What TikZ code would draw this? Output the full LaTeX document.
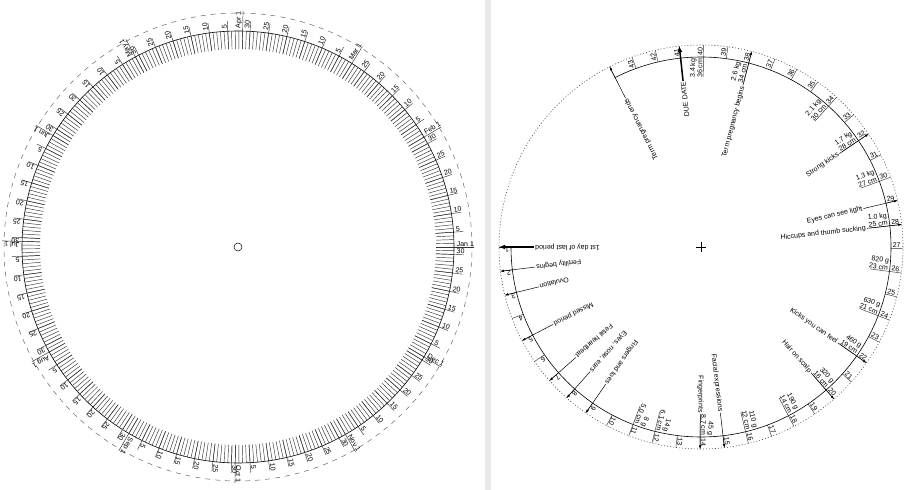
\documentclass[tikz,border=0pt]{standalone}
\usepackage{fontspec}
\setmainfont{Liberation Sans}
\usetikzlibrary{arrows.meta}
\begin{document}
\begin{tikzpicture}[x=1pt,y=1pt,
  lab/.style={font=\fontsize{7}{7}\selectfont, inner sep=0.6pt},
  sz/.style={font=\fontsize{7}{7.4}\selectfont, inner sep=0.6pt, align=right},
  tick/.style={line width=0.45pt, black!80},
  ev/.style={line width=0.5pt, -{Latex[length=3.5pt,width=2.6pt]}},
  evthick/.style={line width=1.5pt, -{Latex[length=6pt,width=5pt]}},
]
\useasboundingbox (0,0) rectangle (911,490);
\fill[black!9] (484.5,0) rectangle (490.5,490);
% ---------------- left wheel: calendar ----------------
\begin{scope}[shift={(238,243)}]
  \coordinate (lc) at (0,0);
  \draw[dash pattern=on 5pt off 5pt, line width=0.5pt, black!60] (lc) circle (234);
  \draw[line width=0.6pt] (lc) circle (216);
  \draw[line width=0.5pt] (lc) circle (4);
  \foreach \d in {0,...,364}{
    \pgfmathsetmacro\a{\d/365*360}
    \draw[tick] (\a:198) -- (\a:216);
  }
  \foreach \m/\n/\s in {Jan/31/0, Feb/28/31, Mar/31/59, Apr/30/90, May/31/120, Jun/30/151, Jul/31/181, Aug/31/212, Sep/30/243, Oct/31/273, Nov/30/304, Dec/31/334}{
    \pgfmathsetmacro\a{\s/365*360}
    \draw[tick] (\a:198) -- (\a:236);
    \node[lab, anchor=south west, rotate=\a] (m\s) at (\a:218) {\m\ 1};
    \foreach \k in {5,10,...,30}{
      \ifnum\k>\n\relax\else
        \pgfmathsetmacro\b{(\s+\k-1)/365*360}
        \draw[tick] (\b:198) -- (\b:226);
        \node[lab, anchor=south west, rotate=\b] at (\b:218) {\k};
      \fi
    }
  }
\end{scope}
% ---------------- right wheel: pregnancy ----------------
\begin{scope}[shift={(701,243)}]
  \coordinate (rc) at (0,0);
  \draw[dash pattern=on 1pt off 2pt, line width=0.6pt, black!70] (rc) circle (202);
  \draw[line width=0.6pt] (180:190) arc[start angle=180, end angle=476.93, radius=190];
  \draw[line width=0.5pt] (-5,0) -- (5,0) (0,-5) -- (0,5);
  \foreach \n in {1,...,43}{
    \pgfmathsetmacro\a{180+(\n-1)*6.9041}
    \draw[tick] (\a:190) -- (\a:202);
    \node[lab, anchor=south west, rotate=\a] (w\n) at (\a:191) {\n};
  }
  \draw[tick] (476.93:190) -- (476.93:202);
  % sizes
  \foreach \n/\t in {11/{8 g\\5.0 cm}, 12/{14 g\\6.1 cm}, 14/{45 g\\8.7 cm}, 16/{110 g\\12 cm}, 18/{190 g\\14 cm}, 20/{320 g\\16 cm}, 22/{460 g\\19 cm}, 24/{630 g\\21 cm}, 26/{820 g\\23 cm}, 28/{1.0 kg\\25 cm}, 30/{1.3 kg\\27 cm}, 32/{1.7 kg\\28 cm}, 34/{2.1 kg\\30 cm}, 38/{2.6 kg\\34 cm}, 40/{3.4 kg\\36 cm}}{
    \pgfmathsetmacro\a{180+(\n-1)*6.9041}
    \draw[tick] (\a:170) -- (\a:190);
    \node[sz, anchor=south east, rotate=\a] (s\n) at (\a:189) {\t};
  }
  % events
  \foreach \n/\t/\st in {1/1st day of last period/evthick, 2/Fertility begins/ev, 3/Ovulation/ev, 5/Missed period/ev, 7/Fetal heartbeat/ev, 8/{Eyes, nose, ears}/ev, 9/Fingers and toes/ev, 14/Fingerprints/ev, 15/Facial expressions/ev, 20/Hair on scalp/ev, 22/Kicks you can feel/ev, 28/Hiccups and thumb sucking/ev, 29/Eyes can see light/ev, 32/Strong kicks/ev, 38/Term pregnancy begins/ev, 41/DUE DATE/evthick, 44/Term pregnancy ends/ev}{
    \pgfmathsetmacro\a{180+(\n-1)*6.9041}
    \coordinate (es\n) at (\a:167);
    \coordinate (et\n) at (\a:202);
    \node[lab, anchor=east, inner sep=1pt, rotate=\a] (e\n) at (es\n) {\t};
    \draw[\st] (es\n) -- (et\n);
  }
\end{scope}
\end{tikzpicture}
\end{document}
